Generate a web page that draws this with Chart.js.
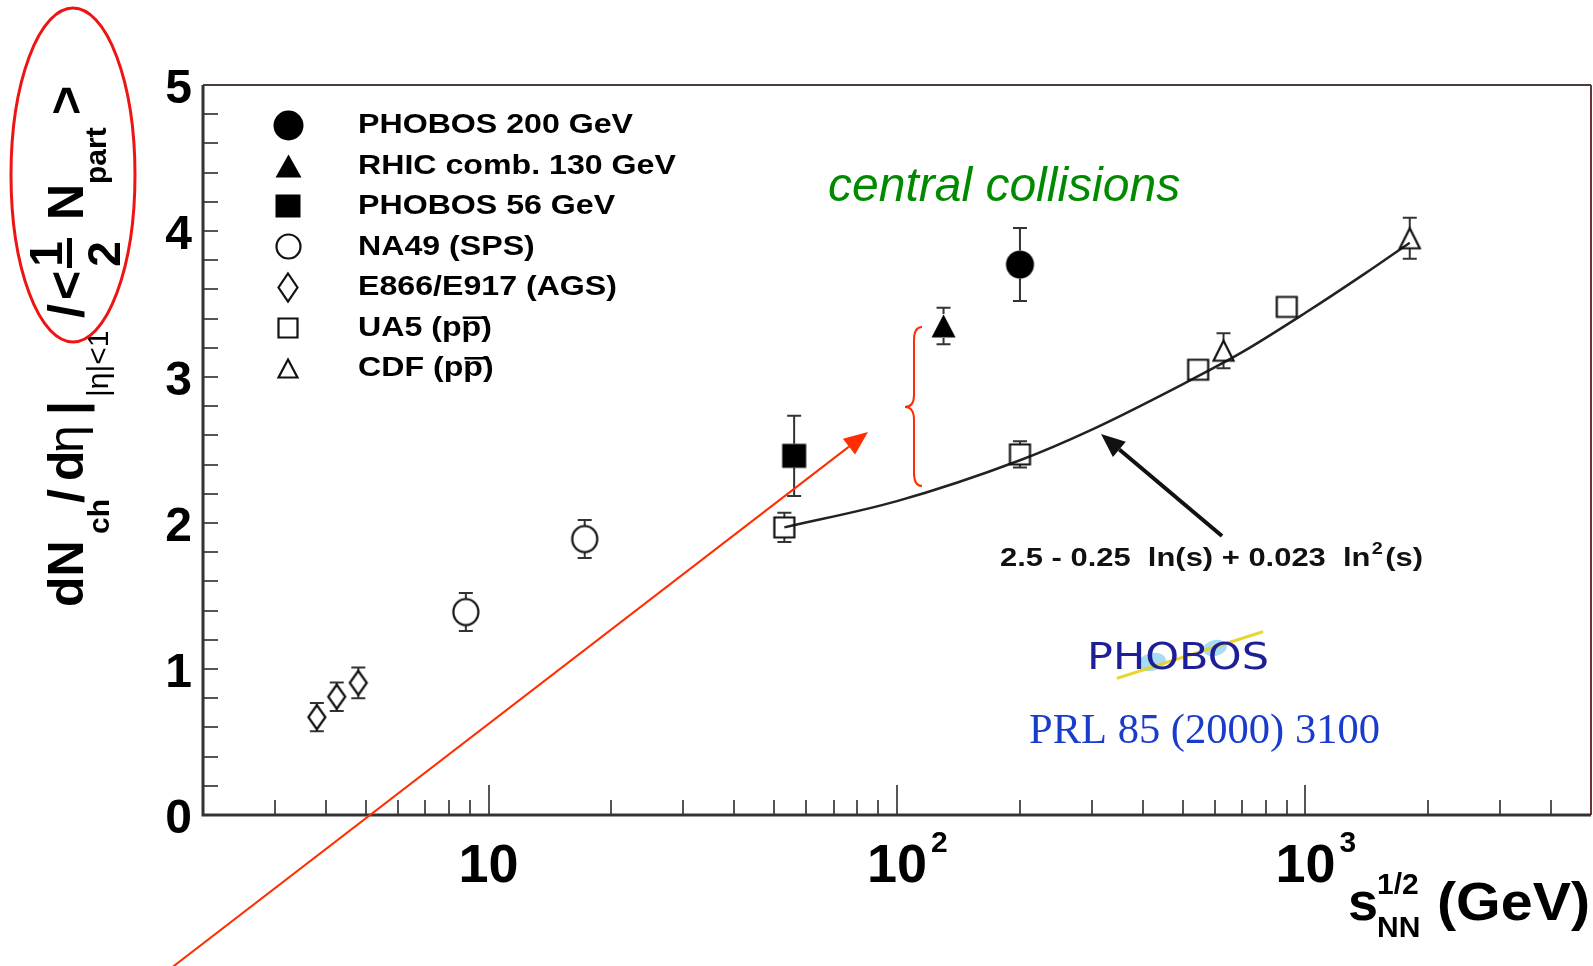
<!DOCTYPE html>
<html>
<head>
<meta charset="utf-8">
<title>dNch/deta per participant pair vs sqrt(sNN)</title>
<script src="https://cdn.jsdelivr.net/npm/chart.js@4.4.1/dist/chart.umd.min.js"></script>
<style>
    html, body { margin: 0; padding: 0; background: #fff; overflow: hidden; }
    #wrap { position: relative; width: 1593px; height: 966px; }
</style>
</head>
<body>
<div id="wrap"><canvas id="chart"></canvas></div>
<script>
'use strict';

// PHOBOS 200 GeV
const phobos200Energy = [200];
const phobos200Mult = [3.77];
const phobos200Err = [0.25];
// RHIC comb. 130 GeV
const rhic130Energy = [130];
const rhic130Mult = [3.35];
const rhic130Err = [0.125];
// PHOBOS 56 GeV
const phobos56Energy = [56];
const phobos56Mult = [2.46];
const phobos56Err = [0.275];
// NA49 (SPS)
const na49Energy = [8.8, 17.2];
const na49Mult = [1.39, 1.89];
const na49Err = [0.13, 0.13];
// E866/E917 (AGS)
const agsEnergy = [3.8, 4.25, 4.8];
const agsMult = [0.67, 0.81, 0.905];
const agsErr = [0.097, 0.097, 0.105];
// UA5 (p pbar)
const ua5Energy = [53, 200, 546, 900];
const ua5Mult = [1.97, 2.47, 3.05, 3.48];
const ua5Err = [0.1, 0.09, 0.05, 0.05];
// CDF (p pbar)
const cdfEnergy = [630, 1800];
const cdfMult = [3.18, 3.95];
const cdfErr = [0.12, 0.14];
// fit line
const fitEnergy = [53, 100, 200, 300, 500, 700, 1000, 1400, 1800];
const fitMult = [1.97, 2.15, 2.43, 2.64, 2.95, 3.17, 3.44, 3.71, 3.92];

// axes
const yTickValues = [0, 1, 2, 3, 4, 5];
const xTickValues = [10, 100, 1000];
const xTickBase = ['10', '10', '10'];
const xTickExp = ['', '2', '3'];

const legendLabels = ['PHOBOS 200 GeV', 'RHIC comb. 130 GeV', 'PHOBOS 56 GeV',
    'NA49 (SPS)', 'E866/E917 (AGS)', 'UA5 (pp)', 'CDF (pp)'];

const FONT = '"Liberation Sans", Arial, sans-serif';
const RED = 'rgb(255, 45, 0)';

/**
 * Build a marker picture that Chart.js uses as pointStyle
 */
function makeMarker(shape, w, h, filled) {
    const lw = 2.2;
    const c = document.createElement('canvas');
    c.width = Math.ceil(w + lw * 2);
    c.height = Math.ceil(h + lw * 2);
    const g = c.getContext('2d');
    const cx = c.width / 2, cy = c.height / 2;
    g.beginPath();
    if (shape === 'circle') {
        g.ellipse(cx, cy, w / 2, h / 2, 0, 0, Math.PI * 2);
    } else if (shape === 'square') {
        g.rect(cx - w / 2, cy - h / 2, w, h);
    } else if (shape === 'triangle') {
        g.moveTo(cx, cy - h / 2);
        g.lineTo(cx + w / 2, cy + h / 2);
        g.lineTo(cx - w / 2, cy + h / 2);
        g.closePath();
    } else {
        g.moveTo(cx, cy - h / 2);
        g.lineTo(cx + w / 2, cy);
        g.lineTo(cx, cy + h / 2);
        g.lineTo(cx - w / 2, cy);
        g.closePath();
    }
    if (filled) {
        g.fillStyle = '#000';
        g.fill();
    } else {
        g.strokeStyle = '#111';
        g.lineWidth = lw;
        g.stroke();
    }
    return c;
}

const dataMarkers = [
    makeMarker('circle', 28, 28, true),
    makeMarker('triangle', 24, 23, true),
    makeMarker('square', 24, 24, true),
    makeMarker('circle', 25, 26, false),
    makeMarker('diamond', 17, 24, false),
    makeMarker('square', 20, 20, false),
    makeMarker('triangle', 20, 20, false)
];
const legendMarkers = [
    makeMarker('circle', 30, 30, true),
    makeMarker('triangle', 26, 23, true),
    makeMarker('square', 25, 23, true),
    makeMarker('circle', 24, 24, false),
    makeMarker('diamond', 19, 28, false),
    makeMarker('square', 19, 19, false),
    makeMarker('triangle', 19, 18, false)
];

function points(xs, ys) {
    return xs.map((v, i) => ({ x: v, y: ys[i] }));
}

function markerSet(label, xs, ys, errs, idx, half) {
    return {
        label: label,
        data: points(xs, ys),
        errors: errs,
        markHalf: half,
        pointStyle: dataMarkers[idx],
        pointRadius: 12,
        showLine: false,
        order: 1
    };
}

/**
 * Inward ticks and the box round the plot
 */
const frameAndTicks = {
    id: 'frameAndTicks',
    beforeDatasetsDraw(chart) {
        const { ctx, chartArea: a, scales: { x, y } } = chart;
        ctx.save();
        ctx.strokeStyle = '#555';
        ctx.lineWidth = 2;
        ctx.beginPath();
        for (let i = 1; i < 25; i++) {
            const py = Math.round(y.getPixelForValue(i / 5));
            ctx.moveTo(a.left, py);
            ctx.lineTo(a.left + 15, py);
        }
        for (let d = 1; d <= 1000; d *= 10) {
            for (let m = 1; m <= 9; m++) {
                const v = m * d;
                if (v <= x.min || v >= x.max) continue;
                const px = Math.round(x.getPixelForValue(v));
                ctx.moveTo(px, a.bottom);
                ctx.lineTo(px, a.bottom - (m === 1 ? 30 : 15));
            }
        }
        ctx.stroke();
        ctx.restore();
    },
    afterDatasetsDraw(chart) {
        const { ctx, chartArea: a } = chart;
        ctx.save();
        ctx.lineWidth = 2;
        ctx.strokeStyle = '#4a3c3c';
        ctx.beginPath();
        ctx.moveTo(a.left, a.top);
        ctx.lineTo(a.right, a.top);
        ctx.stroke();
        ctx.strokeStyle = '#6a3434';
        ctx.beginPath();
        ctx.moveTo(a.right, a.top);
        ctx.lineTo(a.right, a.bottom);
        ctx.stroke();
        ctx.lineWidth = 3;
        ctx.strokeStyle = '#333';
        ctx.beginPath();
        ctx.moveTo(a.left, a.top);
        ctx.lineTo(a.left, a.bottom);
        ctx.lineTo(a.right, a.bottom);
        ctx.stroke();
        ctx.restore();
    }
};

/**
 * Vertical error bars, stopped at the marker edge
 */
const errorBars = {
    id: 'errorBars',
    beforeDatasetsDraw(chart) {
        const { ctx, scales: { y } } = chart;
        ctx.save();
        ctx.strokeStyle = '#333';
        ctx.lineWidth = 2;
        chart.data.datasets.forEach((ds, i) => {
            if (!ds.errors) return;
            const meta = chart.getDatasetMeta(i);
            meta.data.forEach((pt, j) => {
                const v = ds.data[j].y, e = ds.errors[j];
                const top = y.getPixelForValue(v + e);
                const bot = y.getPixelForValue(v - e);
                const h = ds.markHalf;
                if (pt.y - top <= h + 1) return;
                ctx.beginPath();
                ctx.moveTo(pt.x, top);
                ctx.lineTo(pt.x, pt.y - h);
                ctx.moveTo(pt.x, pt.y + h);
                ctx.lineTo(pt.x, bot);
                ctx.moveTo(pt.x - 7, top);
                ctx.lineTo(pt.x + 7, top);
                ctx.moveTo(pt.x - 7, bot);
                ctx.lineTo(pt.x + 7, bot);
                ctx.stroke();
            });
        });
        ctx.restore();
    }
};

/**
 * Legend in the top left corner of the plot
 */
function drawLegend(ctx) {
    const sx = 1.19;
    ctx.save();
    ctx.font = 'bold 27px ' + FONT;
    ctx.fillStyle = '#000';
    ctx.textBaseline = 'middle';
    legendLabels.forEach((label, i) => {
        const cy = 125 + i * 40.5;
        const m = legendMarkers[i];
        ctx.drawImage(m, Math.round(288 - m.width / 2), Math.round(cy - m.height / 2));
        ctx.save();
        ctx.translate(358, cy + 1);
        ctx.scale(sx, 1);
        if (label.endsWith('(pp)')) {
            const head = label.slice(0, -2);
            const w1 = ctx.measureText(head).width;
            const w2 = ctx.measureText('p').width;
            ctx.fillText(head, 0, 0);
            ctx.fillText('p', w1, 0);
            ctx.fillText(')', w1 + w2, 0);
            ctx.fillRect(w1 + 1, -12, w2 + 4, 2.5);
        } else {
            ctx.fillText(label, 0, 0);
        }
        ctx.restore();
    });
    ctx.restore();
}

/**
 * Rotated y title: dNch/deta|_{|eta|<1} / <1/2 Npart>
 */
function drawYTitle(ctx) {
    const main = 'bold 50px ' + FONT;
    const sub = 'bold 30px ' + FONT;
    const thin = '50px ' + FONT;
    const thinSub = '30px ' + FONT;
    const pieces = [
        [0, 0, main, 'dN'],
        [73, 26, sub, 'ch'],
        [104, 0, main, '/'],
        [126, 0, main, 'd'],
        [154, 0, thin, '\u03b7'],
        [192, 0, main, '|'],
        [210, 25, thinSub, '|\u03b7|<1'],
        [289, 0, main, '/'],
        [307, 0, main, '<'],
        [387, 0, main, 'N'],
        [423, 23, sub, 'part'],
        [492, 0, main, '>']
    ];
    ctx.save();
    ctx.translate(83, 607);
    ctx.rotate(-Math.PI / 2);
    ctx.fillStyle = '#000';
    ctx.textBaseline = 'alphabetic';
    pieces.forEach(p => {
        ctx.font = p[2];
        ctx.fillText(p[3], p[0], p[1]);
    });
    // the one half
    ctx.font = 'bold 46px ' + FONT;
    ctx.textAlign = 'center';
    ctx.fillText('1', 353, -21);
    ctx.fillText('2', 353, 37);
    ctx.fillRect(339, -16, 30, 5);
    ctx.restore();
}

/**
 * x tick labels with exponents, and the x title
 */
function drawXLabels(ctx, x) {
    ctx.save();
    ctx.fillStyle = '#000';
    ctx.textBaseline = 'alphabetic';
    xTickValues.forEach((v, i) => {
        const px = x.getPixelForValue(v);
        ctx.font = 'bold 54px ' + FONT;
        const w = ctx.measureText(xTickBase[i]).width;
        ctx.fillText(xTickBase[i], px - w / 2, 882);
        if (xTickExp[i]) {
            ctx.font = 'bold 30px ' + FONT;
            ctx.fillText(xTickExp[i], px + w / 2 + 4, 852);
        }
    });
    ctx.font = 'bold 54px ' + FONT;
    ctx.fillText('s', 1348, 920);
    ctx.font = 'bold 30px ' + FONT;
    ctx.fillText('1/2', 1377, 894);
    ctx.fillText('NN', 1377, 937);
    ctx.font = 'bold 54px ' + FONT;
    const w = ctx.measureText('(GeV)').width;
    ctx.save();
    ctx.translate(1437, 920);
    ctx.scale(153 / w, 1);
    ctx.fillText('(GeV)', 0, 0);
    ctx.restore();
    ctx.restore();
}

function arrow(ctx, x0, y0, x1, y1, color, lw, len, half) {
    const ang = Math.atan2(y1 - y0, x1 - x0);
    const bx = x1 - Math.cos(ang) * len, by = y1 - Math.sin(ang) * len;
    ctx.save();
    ctx.strokeStyle = color;
    ctx.fillStyle = color;
    ctx.lineWidth = lw;
    ctx.beginPath();
    ctx.moveTo(x0, y0);
    ctx.lineTo(bx, by);
    ctx.stroke();
    ctx.beginPath();
    ctx.moveTo(x1, y1);
    ctx.lineTo(bx + Math.sin(ang) * half, by - Math.cos(ang) * half);
    ctx.lineTo(bx - Math.sin(ang) * half, by + Math.cos(ang) * half);
    ctx.closePath();
    ctx.fill();
    ctx.restore();
}

/**
 * Texts, arrows and marks laid over the plot
 */
function drawNotes(ctx) {
    ctx.save();
    ctx.textBaseline = 'alphabetic';

    // fit formula
    ctx.fillStyle = '#111';
    ctx.font = 'bold 25px ' + FONT;
    const f1 = '2.5 - 0.25  ln(s) + 0.023  ln';
    const f2 = '(s)';
    const w1 = ctx.measureText(f1).width;
    const w2 = ctx.measureText(f2).width;
    ctx.font = 'bold 16px ' + FONT;
    const ws = ctx.measureText('2').width + 3;
    const k = 423 / (w1 + w2 + ws);
    ctx.save();
    ctx.translate(1000, 566);
    ctx.scale(k, 1);
    ctx.font = 'bold 25px ' + FONT;
    ctx.fillText(f1, 0, 0);
    ctx.fillText(f2, w1 + ws, 0);
    ctx.font = 'bold 16px ' + FONT;
    ctx.fillText('2', w1 + 1, -12);
    ctx.restore();

    arrow(ctx, 1222, 536, 1101, 434, '#111', 4, 24, 10);

    // central collisions
    ctx.fillStyle = '#008a00';
    ctx.font = 'italic 48px ' + FONT;
    ctx.fillText('central collisions', 828, 201);

    // PHOBOS logo
    ctx.save();
    ctx.fillStyle = 'rgba(130, 205, 240, 0.7)';
    ctx.beginPath();
    ctx.ellipse(1152, 662, 14, 9, -0.2, 0, Math.PI * 2);
    ctx.ellipse(1215, 648, 12, 8, -0.2, 0, Math.PI * 2);
    ctx.fill();
    ctx.strokeStyle = 'rgba(230, 210, 30, 0.9)';
    ctx.lineWidth = 3;
    ctx.lineCap = 'round';
    ctx.beginPath();
    ctx.moveTo(1118, 678);
    ctx.lineTo(1262, 632);
    ctx.stroke();
    ctx.fillStyle = '#1e1e96';
    ctx.font = '38px "DejaVu Sans"';
    const wl = ctx.measureText('PHOBOS').width;
    ctx.translate(1087, 669);
    ctx.scale(182 / wl, 1);
    ctx.fillText('PHOBOS', 0, 0);
    ctx.restore();

    // reference
    ctx.fillStyle = '#1a3ccc';
    ctx.font = '42px "Liberation Serif", "Times New Roman", serif';
    const wr = ctx.measureText('PRL 85 (2000) 3100').width;
    ctx.save();
    ctx.translate(1029, 743);
    ctx.scale(351 / wr, 1);
    ctx.fillText('PRL 85 (2000) 3100', 0, 0);
    ctx.restore();

    // red marks
    ctx.strokeStyle = 'rgb(238, 20, 20)';
    ctx.lineWidth = 3;
    ctx.beginPath();
    ctx.ellipse(73, 175, 62, 167, 0, 0, Math.PI * 2);
    ctx.stroke();

    arrow(ctx, 166, 972, 868, 432, RED, 2, 24, 10);

    ctx.strokeStyle = RED;
    ctx.lineWidth = 2;
    ctx.beginPath();
    ctx.moveTo(922, 327);
    ctx.quadraticCurveTo(914, 327, 914, 340);
    ctx.lineTo(914, 395);
    ctx.quadraticCurveTo(914, 407, 905, 407);
    ctx.quadraticCurveTo(914, 407, 914, 420);
    ctx.lineTo(914, 473);
    ctx.quadraticCurveTo(914, 486, 922, 486);
    ctx.stroke();

    ctx.restore();
}

const overlay = {
    id: 'overlay',
    afterDraw(chart) {
        const ctx = chart.ctx;
        drawLegend(ctx);
        drawYTitle(ctx);
        drawXLabels(ctx, chart.scales.x);
        drawNotes(ctx);
    }
};

const datasets = [
    markerSet('PHOBOS 200 GeV', phobos200Energy, phobos200Mult, phobos200Err, 0, 14),
    markerSet('RHIC comb. 130 GeV', rhic130Energy, rhic130Mult, rhic130Err, 1, 12),
    markerSet('PHOBOS 56 GeV', phobos56Energy, phobos56Mult, phobos56Err, 2, 12),
    markerSet('NA49 (SPS)', na49Energy, na49Mult, na49Err, 3, 13),
    markerSet('E866/E917 (AGS)', agsEnergy, agsMult, agsErr, 4, 12),
    markerSet('UA5 (pp)', ua5Energy, ua5Mult, ua5Err, 5, 10),
    markerSet('CDF (pp)', cdfEnergy, cdfMult, cdfErr, 6, 10),
    {
        label: 'fit',
        data: points(fitEnergy, fitMult),
        showLine: true,
        pointRadius: 0,
        borderColor: '#222',
        borderWidth: 2.5,
        cubicInterpolationMode: 'monotone',
        order: 2
    }
];

new Chart(document.getElementById('chart'), {
    type: 'scatter',
    data: { datasets: datasets },
    options: {
        responsive: true,
        maintainAspectRatio: false,
        animation: false,
        events: [],
        layout: {
            autoPadding: false,
            padding: { top: 85, right: 2, left: 0, bottom: 0 }
        },
        plugins: {
            legend: { display: false },
            tooltip: { enabled: false }
        },
        scales: {
            x: {
                type: 'logarithmic',
                min: 2,
                max: 5000,
                grid: { display: false, drawTicks: false },
                border: { display: false },
                ticks: { display: false },
                afterFit: function(scale) { scale.height = 151; }
            },
            y: {
                min: 0,
                max: 5,
                grid: { display: false, drawTicks: false },
                border: { display: false },
                afterBuildTicks: function(scale) {
                    scale.ticks = yTickValues.map(v => ({ value: v }));
                },
                ticks: {
                    color: '#000',
                    padding: 11,
                    labelOffset: 5,
                    font: { family: FONT, size: 48, weight: 'bold' },
                    callback: function(value) { return String(value); }
                },
                afterFit: function(scale) { scale.width = 203; }
            }
        }
    },
    plugins: [frameAndTicks, errorBars, overlay]
});
</script>
</body>
</html>
